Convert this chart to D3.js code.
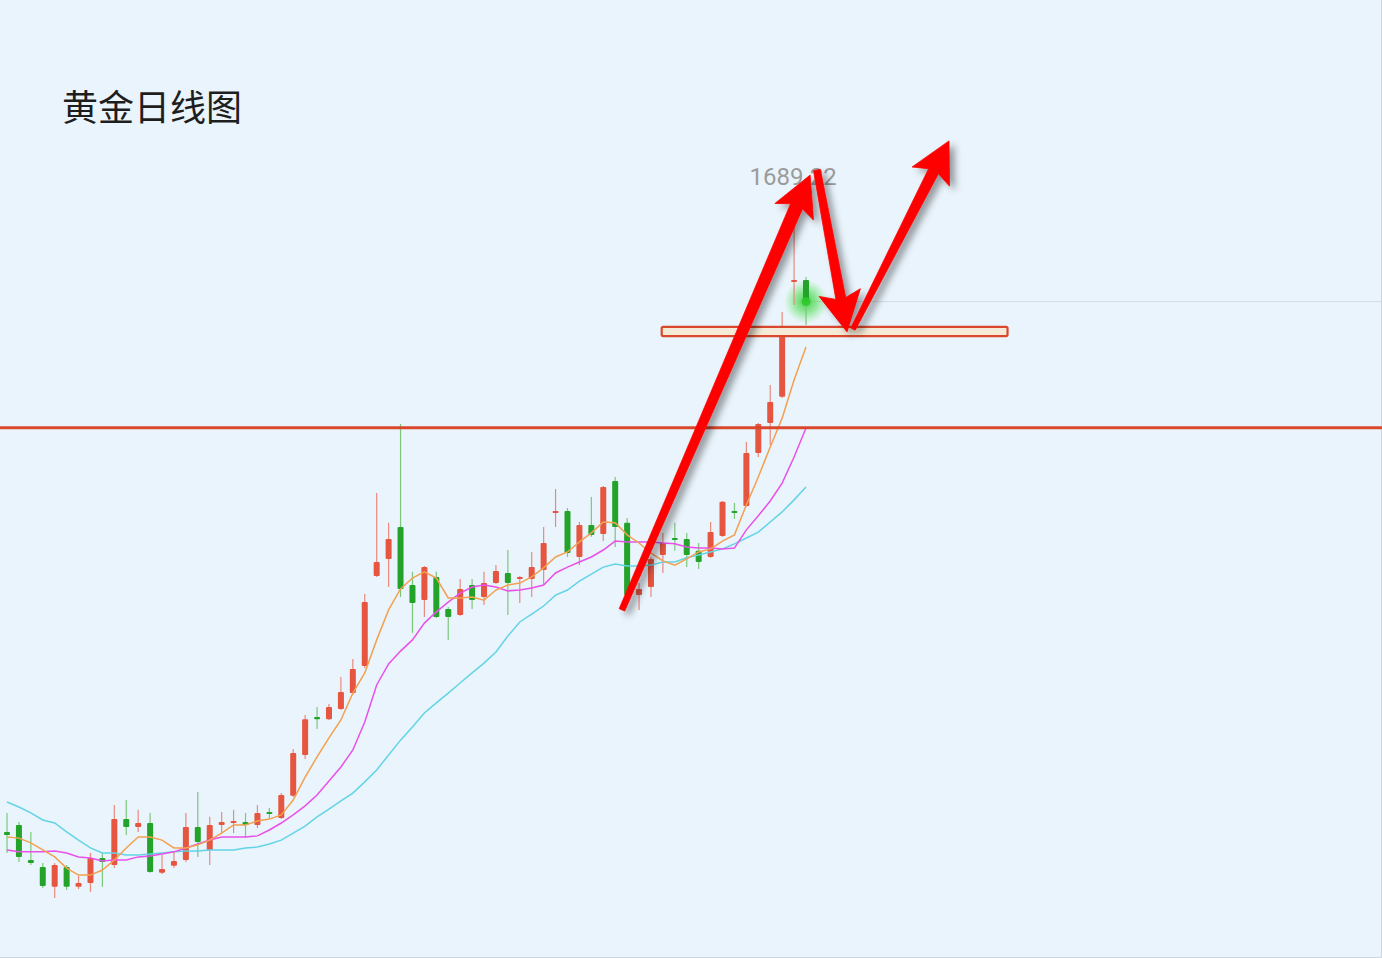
<!DOCTYPE html>
<html><head><meta charset="utf-8">
<script src="https://cdn.jsdelivr.net/npm/d3@7"></script>
<style>html,body{margin:0;padding:0;background:#eaf4fc;overflow:hidden}svg{display:block}</style>
</head><body>
<svg id="c" width="1382" height="958"></svg>
<script>
const title = "黄金日线图";
const open = [1465.6,1468.1,1455.6,1453.1,1446.0,1453.1,1446.0,1447.4,1456.3,1453.8,
1470.2,1467.4,1468.8,1451.0,1453.5,1455.6,1467.4,1459.2,1468.1,1468.5,
1469.2,1468.1,1472.4,1470.6,1478.5,1493.1,1506.7,1505.9,1509.5,1515.2,
1524.9,1557.0,1563.1,1574.5,1553.8,1548.4,1556.7,1545.2,1543.1,1553.8,
1549.5,1554.5,1558.1,1555.9,1555.9,1559.2,1579.2,1580.2,1563.8,1575.2,
1572.0,1590.9,1576.0,1550.2,1553.1,1564.5,1570.2,1570.2,1566.0,1563.8,
1571.3,1579.9,1582.0,1600.9,1611.7,1621.0,1661.7,1662.7];
const high = [1472.4,1469.2,1465.6,1454.5,1454.5,1453.8,1449.9,1458.1,1458.1,1475.2,
1477.0,1473.5,1472.4,1457.4,1458.5,1472.4,1479.9,1471.0,1472.7,1473.5,
1472.4,1475.2,1474.2,1479.5,1495.2,1507.4,1510.2,1511.3,1520.9,1527.4,
1550.6,1586.7,1576.0,1611.3,1558.5,1560.6,1558.5,1545.9,1555.9,1555.9,
1558.5,1560.9,1566.3,1557.0,1565.6,1574.5,1588.1,1581.3,1576.3,1585.2,
1589.2,1592.4,1577.7,1554.5,1563.8,1572.4,1576.0,1572.4,1568.8,1576.3,
1583.8,1583.1,1604.9,1611.7,1625.2,1651.3,1689.22,1663.8];
const low = [1458.1,1454.9,1453.8,1445.6,1442.0,1444.9,1445.2,1444.2,1446.0,1452.7,
1464.5,1465.6,1451.0,1450.6,1452.7,1454.9,1456.7,1453.8,1465.2,1465.2,
1463.5,1467.0,1470.6,1470.2,1478.1,1491.7,1502.4,1505.6,1509.2,1514.5,
1524.2,1556.7,1553.1,1549.5,1536.7,1542.4,1542.0,1534.2,1542.7,1545.2,
1546.7,1554.2,1543.1,1547.4,1549.5,1554.2,1574.5,1563.8,1560.9,1571.0,
1569.5,1567.4,1549.5,1544.9,1549.5,1558.1,1566.0,1560.2,1559.5,1563.5,
1571.0,1577.4,1581.7,1599.5,1603.8,1620.6,1653.8,1646.7];
const close = [1464.5,1456.7,1454.5,1446.3,1453.8,1446.0,1447.4,1456.3,1454.9,1470.2,
1467.4,1468.8,1451.3,1452.4,1455.2,1467.4,1462.0,1468.1,1469.2,1469.2,
1468.1,1472.4,1471.7,1478.8,1493.8,1505.9,1505.9,1510.2,1515.6,1523.8,
1547.7,1562.0,1570.2,1552.4,1547.4,1560.2,1542.4,1542.4,1552.4,1548.4,
1554.5,1558.8,1554.5,1556.7,1560.2,1568.8,1579.9,1565.2,1575.2,1571.7,
1588.8,1574.5,1550.2,1552.4,1563.1,1568.8,1569.5,1564.5,1562.0,1572.7,
1583.5,1579.2,1600.9,1611.3,1619.2,1644.9,1662.4,1655.0];
const ma5 = [1463.8,1463.4,1461.7,1459.2,1456.7,1452.7,1450.2,1450.2,1452.0,1455.6,
1459.9,1463.8,1463.8,1462.7,1459.9,1459.9,1461.0,1462.7,1465.2,1468.1,
1468.1,1469.5,1470.2,1471.7,1477.0,1485.2,1492.4,1499.2,1505.6,1515.2,
1522.4,1534.2,1544.9,1552.4,1556.3,1558.5,1556.3,1549.2,1549.2,1549.5,
1548.4,1552.0,1553.8,1554.5,1556.7,1559.9,1563.8,1565.6,1569.2,1572.4,
1576.3,1576.0,1571.7,1568.8,1565.2,1562.4,1560.9,1563.1,1565.6,1566.7,
1569.5,1571.7,1582.4,1592.4,1603.1,1613.4,1627.0,1638.8];
const ma10 = [1459.2,1458.5,1458.5,1458.5,1458.8,1458.1,1456.7,1456.3,1455.2,1455.6,
1455.6,1456.7,1457.0,1457.7,1458.5,1459.9,1461.3,1462.7,1463.8,1463.8,
1463.8,1464.2,1466.3,1468.8,1471.7,1474.9,1478.8,1483.8,1488.8,1494.9,
1504.9,1518.1,1525.6,1530.2,1534.2,1540.2,1544.2,1547.7,1550.9,1553.1,
1553.8,1553.1,1551.7,1552.0,1552.7,1553.8,1558.1,1560.2,1562.0,1563.8,
1566.3,1569.5,1569.2,1569.2,1569.2,1568.8,1568.5,1567.4,1567.0,1567.0,
1566.7,1567.0,1573.5,1578.5,1583.8,1590.2,1599.5,1609.9];
const ma20 = [1476.3,1474.5,1472.4,1469.9,1468.8,1465.6,1462.7,1459.9,1458.1,1458.1,
1457.4,1457.4,1457.7,1458.1,1458.5,1458.8,1458.8,1459.2,1459.2,1459.2,
1459.9,1460.2,1461.3,1462.7,1465.2,1467.7,1471.0,1473.8,1476.7,1479.5,
1483.5,1487.7,1493.1,1498.4,1503.1,1508.1,1511.7,1515.2,1518.8,1522.4,
1525.9,1529.9,1535.6,1540.6,1543.4,1546.3,1550.2,1552.0,1555.2,1557.7,
1560.2,1561.3,1560.6,1560.6,1560.9,1562.0,1562.0,1563.5,1564.5,1565.6,
1566.7,1568.5,1570.6,1572.7,1576.3,1579.9,1584.2,1588.8];
const maxLabel = "1689.22";
const resistanceLevel = 1610.0;
const supportZone = [1642.7, 1646.0];
const supportZoneSpan = [54.9, 83.9];
// annotation arrows in data space: [[index, price] start, [index, price] tip]
const arrowStarts = [[51.57, 1544.9], [67.92, 1702.0], [70.94, 1645.2]];
const arrowTips = [[67.34, 1700.2], [70.44, 1644.2], [78.99, 1712.4]];

const W = 1382, H = 958;
const svg = d3.select("#c");
const x = d3.scaleLinear().domain([0, 67]).range([7, 806]);
const y = d3.scaleLinear().domain([1611.3, 1689.22]).range([424, 205.82]);

const defs = svg.append("defs");
const f = defs.append("filter").attr("id", "sh").attr("x", "-50%").attr("y", "-50%").attr("width", "200%").attr("height", "200%");
f.append("feDropShadow").attr("dx", 5).attr("dy", 4).attr("stdDeviation", 3.5)
  .attr("flood-color", "#000").attr("flood-opacity", 0.38);
const rg = defs.append("radialGradient").attr("id", "glow");
rg.append("stop").attr("offset", "0%").attr("stop-color", "#2fcc2f").attr("stop-opacity", 0.9);
rg.append("stop").attr("offset", "50%").attr("stop-color", "#4cdc4c").attr("stop-opacity", 0.55);
rg.append("stop").attr("offset", "100%").attr("stop-color", "#66ee66").attr("stop-opacity", 0);

svg.append("rect").attr("width", W).attr("height", H).attr("fill", "#eaf4fc");
svg.append("line").attr("x1", W - 0.5).attr("x2", W - 0.5).attr("y1", 0).attr("y2", H).attr("stroke", "#cdd6de");
svg.append("line").attr("x1", 0).attr("x2", W).attr("y1", H - 0.5).attr("y2", H - 0.5).attr("stroke", "#cdd6de");

// title
svg.append("text").attr("x", 62).attr("y", 121).text(title)
  .attr("font-family", "'Noto Sans CJK SC', sans-serif").attr("font-size", 36).attr("fill", "#1e1e1e");

// last price line
const last = close.length - 1;
svg.append("line").attr("x1", x(last)).attr("x2", W).attr("y1", y(close[last])).attr("y2", y(close[last]))
  .attr("stroke", "#d3dae3").attr("stroke-width", 1);

// glow on last candle
svg.append("circle").attr("cx", x(last)).attr("cy", y(close[last])).attr("r", 22).attr("fill", "url(#glow)");

// candles
const idx = d3.range(open.length);
const up = i => close[i] >= open[i];
const g = svg.append("g");
g.selectAll("line.w").data(idx).join("line")
  .attr("x1", i => x(i)).attr("x2", i => x(i))
  .attr("y1", i => y(high[i])).attr("y2", i => y(low[i]))
  .attr("stroke", i => up(i) ? "#e98a7d" : "#7cc77c").attr("stroke-width", 1.2);
g.selectAll("rect.b").data(idx).join("rect")
  .attr("x", i => x(i) - 3).attr("width", 6)
  .attr("y", i => Math.min(y(open[i]), y(close[i])) - (Math.abs(y(open[i]) - y(close[i])) < 2 ? 1 : 0))
  .attr("height", i => Math.max(2, Math.abs(y(open[i]) - y(close[i]))))
  .attr("rx", 1)
  .attr("fill", i => up(i) ? "#e5553f" : "#24a32b");

svg.append("circle").attr("cx", x(last)).attr("cy", y(close[last])).attr("r", 4.5).attr("fill", "#2fc92f").attr("opacity", 0.9);

// moving averages
const line = d3.line().x((d, i) => x(i)).y(d => y(d));
[[ma20, "#62d4e6"], [ma10, "#e950e9"], [ma5, "#f3a04f"]].forEach(([s, c]) => {
  svg.append("path").attr("d", line(s)).attr("fill", "none").attr("stroke", c).attr("stroke-width", 1.5);
});

// resistance line
svg.append("line").attr("x1", 0).attr("x2", W).attr("y1", y(resistanceLevel)).attr("y2", y(resistanceLevel))
  .attr("stroke", "#d9482c").attr("stroke-width", 3);

// support zone
svg.append("rect").attr("x", x(supportZoneSpan[0])).attr("width", x(supportZoneSpan[1]) - x(supportZoneSpan[0]))
  .attr("y", y(supportZone[1])).attr("height", y(supportZone[0]) - y(supportZone[1]))
  .attr("rx", 1.5).attr("fill", "#f4ead6").attr("stroke", "#d9482c").attr("stroke-width", 2.2);

// max label
svg.append("text").attr("x", x(66) - 1).attr("y", 185).attr("text-anchor", "middle")
  .attr("font-family", "Roboto, 'Noto Sans', sans-serif").attr("font-size", 24).attr("fill", "#9b9b9b").text(maxLabel);

// arrows
const widths = [[6, 13], [7, 10], [5, 11]];
function arrowPath(x0, y0, x1, y1, ws, we, hl, hw) {
  const dx = x1 - x0, dy = y1 - y0, L = Math.hypot(dx, dy), ux = dx / L, uy = dy / L, px = -uy, py = ux;
  const bx = x1 - ux * hl, by = y1 - uy * hl;
  const nx = x1 - ux * (hl - 6), ny = y1 - uy * (hl - 6);
  const p = [
    [x0 + px * ws / 2, y0 + py * ws / 2],
    [nx + px * we / 2, ny + py * we / 2],
    [bx + px * hw, by + py * hw],
    [x1, y1],
    [bx - px * hw, by - py * hw],
    [nx - px * we / 2, ny - py * we / 2],
    [x0 - px * ws / 2, y0 - py * ws / 2]
  ];
  return "M" + p.map(q => q[0].toFixed(1) + "," + q[1].toFixed(1)).join("L") + "Z";
}
const ag = svg.append("g").attr("filter", "url(#sh)");
arrowStarts.forEach((s, k) => {
  const t = arrowTips[k];
  ag.append("path").attr("d", arrowPath(x(s[0]), y(s[1]), x(t[0]), y(t[1]), widths[k][0], widths[k][1], 40, 21))
    .attr("fill", "#fe0000").attr("stroke", "#fe0000").attr("stroke-width", 0.8).attr("stroke-linejoin", "round");
});
</script>
</body></html>
